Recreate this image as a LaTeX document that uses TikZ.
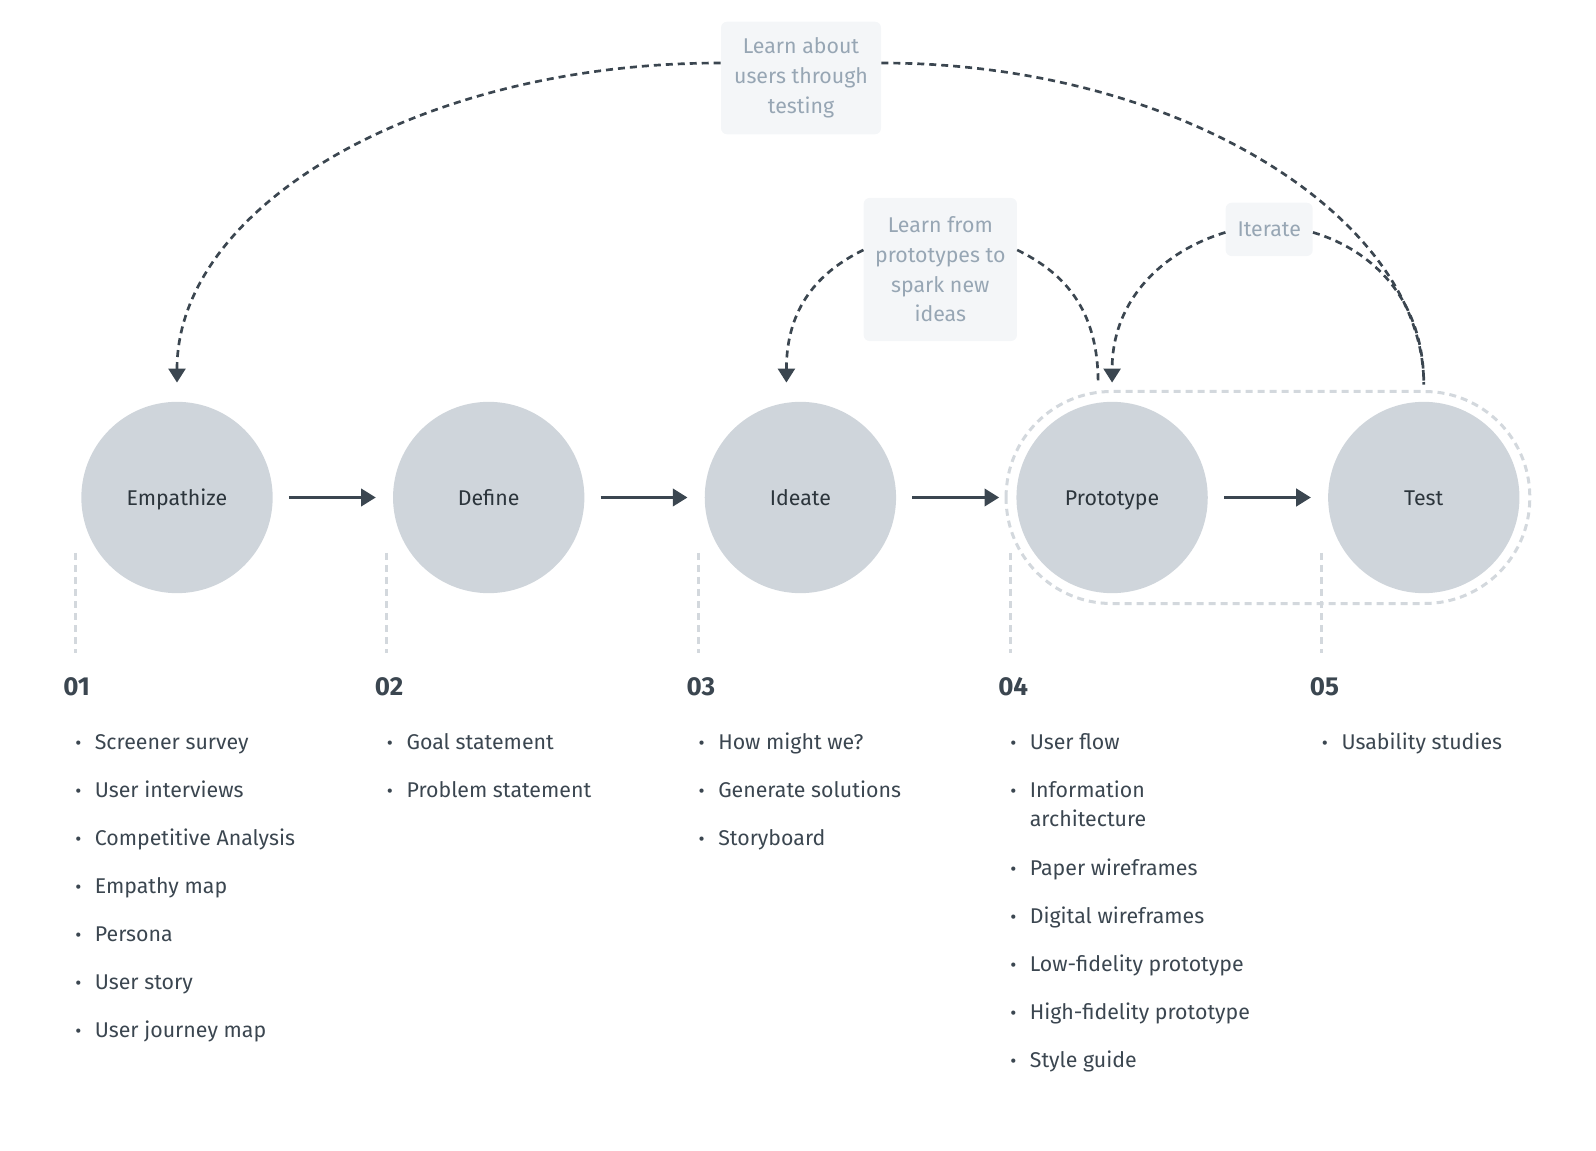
\documentclass[tikz,border=0pt]{standalone}
\usepackage{fontspec}
\setmainfont{Fira Sans}
\usetikzlibrary{arrows.meta,calc}
\definecolor{ink}{RGB}{59,70,80}
\definecolor{bubble}{RGB}{207,213,219}
\definecolor{note}{RGB}{151,166,180}
\definecolor{notebg}{RGB}{244,246,248}
\definecolor{guide}{RGB}{211,216,221}

\tikzset{
	stage/.style={circle, fill=bubble, minimum size=143.5pt, inner sep=0pt, text height=15pt, text depth=2.3pt, text=ink!75!black, font=\fontsize{16}{22.3}\selectfont},
	flow/.style={draw=ink, line width=2.25pt, -{Triangle[length=11pt,width=13pt]}, shorten <=12pt, shorten >=12.75pt},
	loopline/.style={draw=ink, line width=2pt, dash pattern=on 5.25pt off 3.75pt},
	looparrow/.style={loopline, -{Triangle[length=10.5pt,width=12.75pt]}},
	notebox/.style={fill=notebg, rounded corners=4.5pt, text=note, align=center, inner sep=0pt, font=\fontsize{16}{22.3}\selectfont},
	num/.style={anchor=base west, inner sep=0pt, text=ink, font=\fontsize{19.5}{22}\selectfont\bfseries},
	item/.style={anchor=base west, inner sep=0pt, text=ink, align=left, font=\fontsize{16}{22.1}\selectfont},
	dot/.style={anchor=base, inner sep=0pt, text=ink, font=\fontsize{14}{16}\selectfont},
	guideline/.style={draw=guide, line width=2.25pt, dash pattern=on 5.25pt off 3.75pt}
}

\begin{document}
\begin{tikzpicture}[x=0.75pt,y=0.75pt,yscale=-1,xscale=1]
		\useasboundingbox (0,0) rectangle (1596,1151);

		% stages
		\node[stage] (emp) at (177,497.5) {Empathize};
		\node[stage] (def) at (488.7,497.5) {Define};
		\node[stage] (ide) at (800.4,497.5) {Ideate};
		\node[stage] (proto) at (1112.1,497.5) {Prototype};
		\node[stage] (test) at (1423.8,497.5) {Test};

		\draw[flow] (emp) -- (def);
		\draw[flow] (def) -- (ide);
		\draw[flow] (ide) -- (proto);
		\draw[flow] (proto) -- (test);

		\draw[guideline, rounded corners=79pt] ($(proto.center)+(-106,-106)$) rectangle ($(test.center)+(106,106)$);

		% feedback notes
		\node[notebox, minimum width=120pt, minimum height=84.4pt] (lblA) at (801,78) {Learn about\\users through\\testing};
		\node[notebox, minimum width=115pt, minimum height=107.3pt] (lblB) at (940.3,269.5) {Learn from\\prototypes to\\spark new\\ideas};
		\node[notebox, minimum width=65.3pt, minimum height=40pt] (lblC) at (1269.2,229.4) {Iterate};

		\coordinate (empIn) at ($(emp.north)+(0,-19)$);
		\coordinate (ideIn) at ($(ide.north)+(-14,-19)$);
		\coordinate (protoOut) at ($(proto.north)+(-14,-19)$);
		\coordinate (protoIn) at ($(proto.north)+(0,-19)$);
		\coordinate (testOut) at ($(test.north)+(0,-17)$);

		\draw[looparrow] ($(lblA.west)+(0,-15)$) .. controls +(-300,0) and +(0,-177) .. (empIn);
		\draw[loopline] ($(lblA.east)+(0,-15)$) .. controls +(300,0) and +(0,-165) .. (testOut);
		\draw[looparrow] ($(lblB.west)+(0,-19.5)$) .. controls +(-45,22) and +(0,-75) .. (ideIn);
		\draw[loopline] ($(lblB.east)+(0,-19.5)$) .. controls +(45,22) and +(0,-75) .. (protoOut);
		\draw[looparrow] ($(lblC.west)+(0,3)$) .. controls +(-60,18) and +(0,-85) .. (protoIn);
		\draw[loopline] ($(lblC.east)+(0,3)$) .. controls +(60,18) and +(0,-85) .. (testOut);

		% guides under the stages
		\draw[guideline] (75,553) -- (75,653);
		\draw[guideline] (386.7,553) -- (386.7,653);
		\draw[guideline] (698.4,553) -- (698.4,653);
		\draw[guideline] (1010,553) -- (1010,653);
		\draw[guideline] (1321.7,553) -- (1321.7,653);

		\node[num] (n1) at (63,695) {01};
		\node[num] (n2) at (374.7,695) {02};
		\node[num] (n3) at (686.4,695) {03};
		\node[num] (n4) at (998,695) {04};
		\node[num] (n5) at (1309.7,695) {05};

		% 01
		\node[dot] at (78.3,749) {•};  \node[item] (a1) at (94.6,749) {Screener survey};
		\node[dot] at (78.3,797) {•};  \node[item] (a2) at (94.6,797) {User interviews};
		\node[dot] at (78.3,845) {•};  \node[item] (a3) at (94.6,845) {Competitive Analysis};
		\node[dot] at (78.3,893) {•};  \node[item] (a4) at (94.6,893) {Empathy map};
		\node[dot] at (78.3,941) {•};  \node[item] (a5) at (94.6,941) {Persona};
		\node[dot] at (78.3,989) {•};  \node[item] (a6) at (94.6,989) {User story};
		\node[dot] at (78.3,1037) {•}; \node[item] (a7) at (94.6,1037) {User journey map};
		% 02
		\node[dot] at (390,749) {•};  \node[item] (b1) at (406.3,749) {Goal statement};
		\node[dot] at (390,797) {•};  \node[item] (b2) at (406.3,797) {Problem statement};
		% 03
		\node[dot] at (701.7,749) {•};  \node[item] (c1) at (718,749) {How might we?};
		\node[dot] at (701.7,797) {•};  \node[item] (c2) at (718,797) {Generate solutions};
		\node[dot] at (701.7,845) {•};  \node[item] (c3) at (718,845) {Storyboard};
		% 04 (two-line item sits on its last baseline)
		\node[dot] at (1013.3,749) {•};  \node[item] (d1) at (1029.6,749) {User flow};
		\node[dot] at (1013.3,797) {•};  \node[item] (d2) at (1029.6,826.5) {Information\\architecture};
		\node[dot] at (1013.3,875) {•};  \node[item] (d3) at (1029.6,875) {Paper wireframes};
		\node[dot] at (1013.3,923) {•};  \node[item] (d4) at (1029.6,923) {Digital wireframes};
		\node[dot] at (1013.3,971) {•};  \node[item] (d5) at (1029.6,971) {Low-fidelity prototype};
		\node[dot] at (1013.3,1019) {•}; \node[item] (d6) at (1029.6,1019) {High-fidelity prototype};
		\node[dot] at (1013.3,1067) {•}; \node[item] (d7) at (1029.6,1067) {Style guide};
		% 05
		\node[dot] at (1325,749) {•};  \node[item] (e1) at (1341.3,749) {Usability studies};
\end{tikzpicture}
\end{document}
